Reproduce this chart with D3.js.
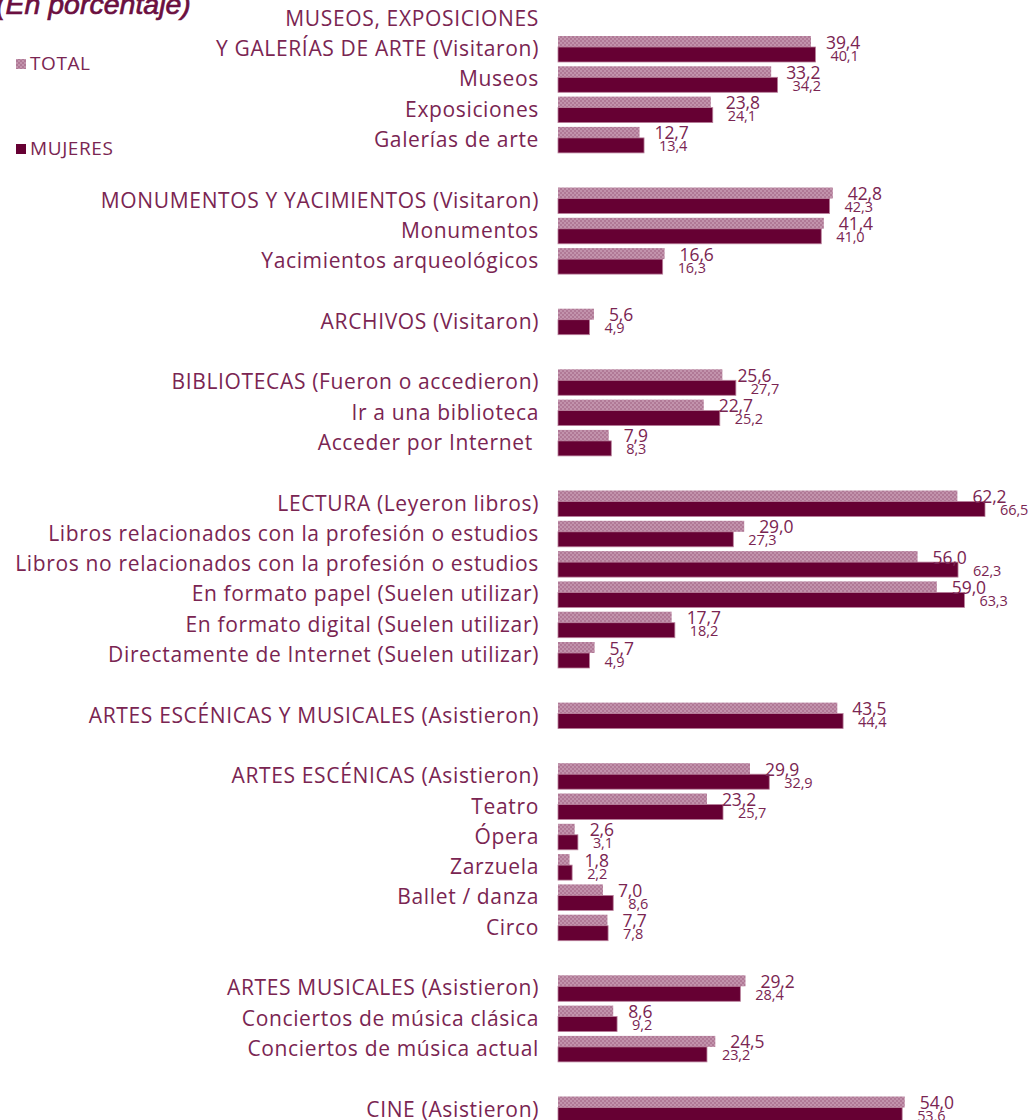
<!DOCTYPE html>
<html><head><meta charset="utf-8">
<script src="https://cdn.jsdelivr.net/npm/d3@7"></script>
<style>
html,body{margin:0;padding:0;background:#fff;}
svg{display:block;}
text{font-family:"Open Sans",Lato,sans-serif;}
</style></head>
<body><svg id="chart" width="1034" height="1120"></svg>
<script>
// Slots: "" entries are blank spacer rows
const categories = [
  "MUSEOS, EXPOSICIONES|Y GALERÍAS DE ARTE (Visitaron)","Museos","Exposiciones","Galerías de arte","",
  "MONUMENTOS Y YACIMIENTOS (Visitaron)","Monumentos","Yacimientos arqueológicos","",
  "ARCHIVOS (Visitaron)","",
  "BIBLIOTECAS (Fueron o accedieron)","Ir a una biblioteca","Acceder por Internet\u00a0","",
  "LECTURA (Leyeron libros)","Libros relacionados con la profesión o estudios","Libros no relacionados con la profesión o estudios","En formato papel (Suelen utilizar)","En formato digital (Suelen utilizar)","Directamente de Internet (Suelen utilizar)","",
  "ARTES ESCÉNICAS Y MUSICALES (Asistieron)","",
  "ARTES ESCÉNICAS (Asistieron)","Teatro","Ópera","Zarzuela","Ballet / danza","Circo","",
  "ARTES MUSICALES (Asistieron)","Conciertos de música clásica","Conciertos de música actual","",
  "CINE (Asistieron)"
];
const totalValues = [39.4,33.2,23.8,12.7,null,42.8,41.4,16.6,null,5.6,null,25.6,22.7,7.9,null,62.2,29.0,56.0,59.0,17.7,5.7,null,43.5,null,29.9,23.2,2.6,1.8,7.0,7.7,null,29.2,8.6,24.5,null,54.0];
const womenValues = [40.1,34.2,24.1,13.4,null,42.3,41.0,16.3,null,4.9,null,27.7,25.2,8.3,null,66.5,27.3,62.3,63.3,18.2,4.9,null,44.4,null,32.9,25.7,3.1,2.2,8.6,7.8,null,28.4,9.2,23.2,null,53.6];
const seriesNames = ["TOTAL","MUJERES"];
const titleText = "(En porcentaje)";

const svg = d3.select("#chart");
const labelColor = "#7a2552";
const womenColor = "#660033";

const defs = svg.append("defs");
const pat = defs.append("pattern").attr("id","checker").attr("patternUnits","userSpaceOnUse")
  .attr("width",4).attr("height",4);
pat.append("rect").attr("width",4).attr("height",4).attr("fill","#c293ac");
pat.append("rect").attr("width",2).attr("height",2).attr("fill","#b07996");
pat.append("rect").attr("x",2).attr("y",2).attr("width",2).attr("height",2).attr("fill","#b07996");

const slots = categories.map((c,i)=>i);
const y = d3.scaleBand().domain(slots).range([36, 36 + 30.3*categories.length]).padding(0);
const x = d3.scaleLinear().domain([0,66.5]).range([558, 985]);

const locale = d3.formatLocale({decimal:",", thousands:".", grouping:[3], currency:["","€"]});
const fmt = locale.format(".1f");

// title
svg.append("text").attr("x",-4).attr("y",13.5).attr("fill","#6b0f40")
  .style("font-family","'Liberation Sans',Arial,sans-serif")
  .style("font-style","italic").style("font-size","28.5px")
  .attr("stroke","#6b0f40").attr("stroke-width",0.7)
  .text(titleText);

// legend
const legY = [59,144];
seriesNames.forEach((s,i)=>{
  svg.append("rect").attr("x",16).attr("y",legY[i]).attr("width",10).attr("height",10)
    .attr("fill", i===0 ? "url(#checker)" : womenColor);
  svg.append("text").attr("x",30).attr("y",legY[i]+11).attr("fill",labelColor)
    .style("font-size","19px").style("letter-spacing","0.6px").text(s);
});

const rows = categories.map((c,i)=>({c, i, t: totalValues[i], w: womenValues[i]})).filter(d=>d.c!=="");

// category labels
const lab = svg.append("g").selectAll("text").data(rows).join("text")
  .attr("x",539).attr("text-anchor","end").attr("fill",labelColor)
  .style("font-size","21px").style("letter-spacing","0.65px");
lab.each(function(d){
  const parts = d.c.split("|");
  const t = d3.select(this);
  const base = y(d.i) + 20;
  parts.forEach((p,k)=>{
    t.append("tspan").attr("x",539).attr("y", base - (parts.length-1-k)*30).text(p);
  });
});

// bars
const g = svg.append("g");
g.selectAll("rect.tot").data(rows).join("rect").attr("class","tot")
  .attr("x",x(0)).attr("y",d=>y(d.i)).attr("width",d=>x(d.t)-x(0)).attr("height",11)
  .attr("fill","url(#checker)");
g.selectAll("rect.wom").data(rows).join("rect").attr("class","wom")
  .attr("x",x(0)).attr("y",d=>y(d.i)+11).attr("width",d=>x(d.w)-x(0)).attr("height",15)
  .attr("fill",womenColor).attr("stroke","#b9809c").attr("stroke-width",0.8);

// value labels
g.selectAll("text.tv").data(rows).join("text").attr("class","tv")
  .attr("x",d=>x(d.t)+15).attr("y",d=>y(d.i)+12.5).attr("fill",labelColor)
  .style("font-size","17.5px").style("letter-spacing","-0.1px").text(d=>fmt(d.t));
g.selectAll("text.wv").data(rows).join("text").attr("class","wv")
  .attr("x",d=>x(d.w)+15).attr("y",d=>y(d.i)+24.5).attr("fill",labelColor)
  .style("font-size","14.5px").style("letter-spacing","-0.1px").text(d=>fmt(d.w));
</script></body></html>
